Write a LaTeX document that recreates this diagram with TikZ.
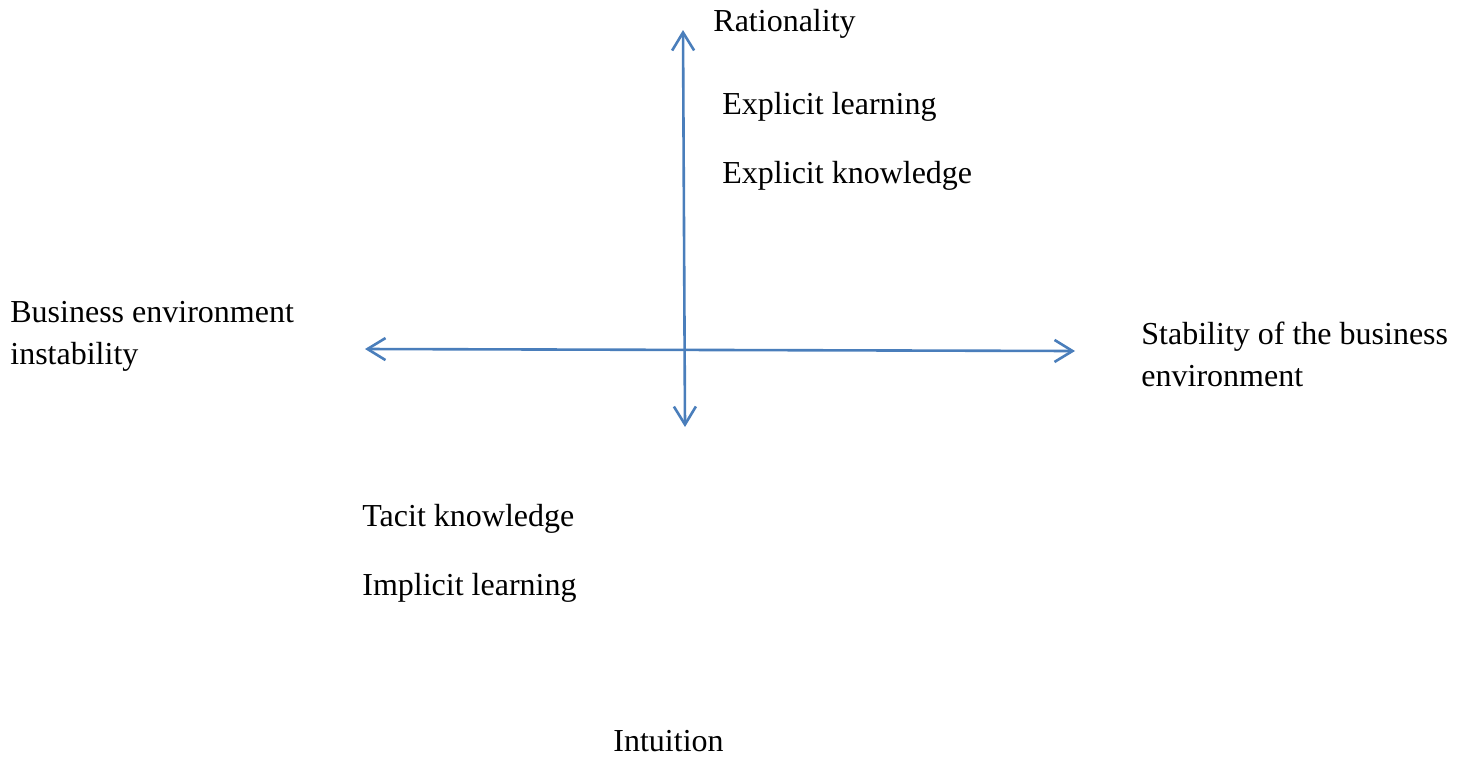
\documentclass[tikz,border=0pt]{standalone}
\usepackage{fontspec}
\setmainfont{Liberation Serif}
\usetikzlibrary{arrows.meta}
\definecolor{axisblue}{RGB}{74,126,187}
\begin{document}
\begin{tikzpicture}[x=0.5pt,y=-0.5pt,
  axis/.style={draw=axisblue,line width=1.3pt,
    {Straight Barb[length=9pt,width=11pt,line width=1.3pt]}-{Straight Barb[length=9pt,width=11pt,line width=1.3pt]}},
  lbl/.style={inner sep=0pt,anchor=west,align=left,font=\fontsize{16}{21}\selectfont}]
\useasboundingbox (0,0) rectangle (1466,756);
\coordinate (top) at (683,30);
\coordinate (bot) at (685,427);
\coordinate (lft) at (365,349);
\coordinate (rgt) at (1075,351);
\draw[axis] (bot) -- (top);
\draw[axis] (lft) -- (rgt);
\node[lbl] (ra) at (713,24) {Rationality};
\node[lbl] (el) at (722,106.5) {Explicit learning};
\node[lbl] (ek) at (722,175.5) {Explicit knowledge};
\node[lbl] (bi) at (10,336.5) {Business environment\\instability};
\node[lbl] (st) at (1141,354.5) {Stability of the business\\environment};
\node[lbl] (tk) at (362,518.5) {Tacit knowledge};
\node[lbl] (il) at (362,587.5) {Implicit learning};
\node[lbl] (in) at (613,741) {Intuition};
\end{tikzpicture}
\end{document}
